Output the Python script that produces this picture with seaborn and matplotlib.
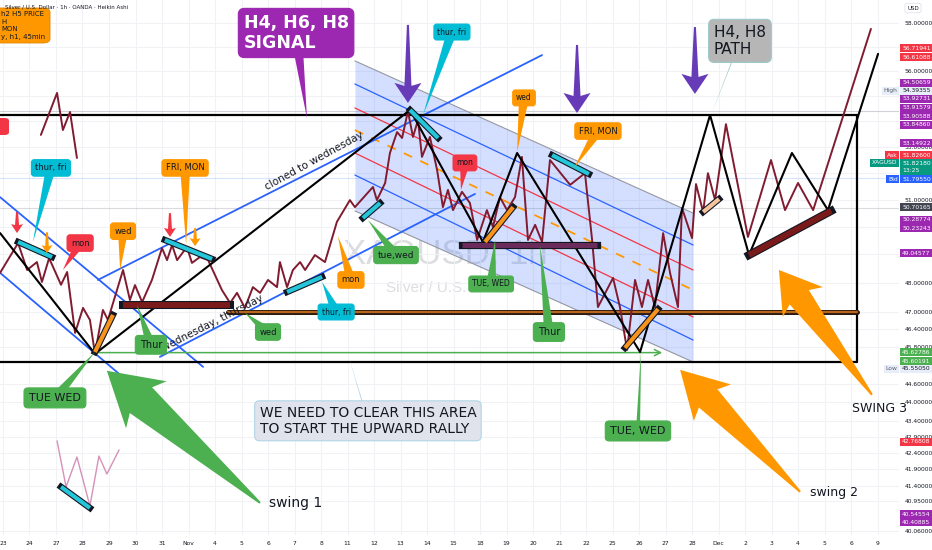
import numpy as np
import pandas as pd
import matplotlib.pyplot as plt
import matplotlib.transforms as mtransforms
from matplotlib.patches import Polygon, FancyBboxPatch
from matplotlib.ticker import FixedLocator, NullLocator, FuncFormatter
import seaborn as sns

# ----- Data (x = trading day index, y = price) -----
day_labels = ["23", "24", "27", "28", "29", "30", "31", "Nov", "4", "5", "6", "7", "8", "11",
              "12", "13", "14", "15", "18", "19", "20", "21", "22", "25", "26", "27", "28",
              "Dec", "2", "3", "4", "5", "6", "9"]
price_ticks = [58, 57, 56, 55, 54, 53, 52, 51, 50, 49, 48, 47, 46.4, 45.8, 44.6, 44, 43.4,
               42.9, 42.4, 41.9, 41.4, 40.95, 40.06]
# ticks whose labels sit under the coloured price tags
covered_ticks = [57, 55, 54, 52, 50, 49]

# maroon swing path drawn over the heikin ashi candles
path_x = [-0.11, 0.57, 0.91, 1.28, 1.47, 1.74, 2.19, 2.42, 2.72, 3.02,
          3.28, 3.47, 3.77, 3.96, 4.53, 4.79, 4.98, 5.25, 5.62, 6.00,
          6.19, 6.38, 6.57, 6.94, 7.13, 7.43, 7.74, 8.26, 8.57, 8.83,
          9.13, 9.43, 9.70, 10.00, 10.34, 10.45, 10.72, 10.94, 11.21, 11.40,
          11.77, 12.15, 12.60, 13.09, 13.28, 13.96, 14.11, 14.42, 14.60, 14.87,
          15.06, 15.28, 15.47, 15.66, 15.81, 16.11, 16.38, 16.60, 16.79, 16.98,
          17.32, 17.62, 17.89, 18.26, 18.49, 18.75, 19.02, 19.32, 19.58, 19.81,
          20.08, 20.34, 20.64, 21.40, 21.96, 22.23, 22.45, 23.02, 23.28, 23.55,
          23.85, 24.11, 24.34, 24.60, 24.91, 25.17, 25.47, 25.62, 26.00, 26.15,
          26.42, 26.60, 26.87, 27.28, 28.11, 28.98, 29.51, 30.00, 30.57, 32.75]
path_y = [48.35, 49.41, 48.45, 48.73, 48.03, 48.87, 47.93, 48.38, 46.28, 47.13,
          46.72, 45.58, 47.06, 46.72, 48.45, 47.40, 47.92, 47.33, 48.10, 49.23,
          48.80, 49.34, 48.80, 49.27, 48.70, 48.91, 48.80, 47.75, 47.30, 47.65,
          47.13, 47.85, 47.65, 48.10, 47.85, 48.73, 47.85, 48.45, 48.73, 48.45,
          48.98, 48.73, 50.18, 50.98, 50.72, 51.47, 50.98, 51.62, 52.76, 53.57,
          53.34, 54.39, 53.38, 54.04, 52.61, 53.38, 52.11, 50.72, 51.36, 50.61,
          51.29, 50.87, 49.52, 50.61, 49.99, 51.09, 50.61, 51.09, 52.61, 49.52,
          50.07, 49.45, 52.49, 51.55, 51.99, 49.52, 47.16, 48.17, 47.16, 45.71,
          48.10, 47.16, 48.10, 47.16, 49.77, 48.35, 47.16, 50.69, 49.59, 51.58,
          50.54, 51.99, 50.98, 53.88, 49.63, 52.49, 50.61, 51.62, 50.61, 57.75]

# black H4/H8 path
black_x = [-0.11, 3.47, 15.36, 18.11, 19.40, 24.04, 26.68, 28.15, 29.77, 31.13, 33.02]
black_y = [49.77, 45.58, 54.44, 49.45, 52.76, 45.64, 54.24, 48.98, 52.76, 50.61, 56.71]

# small side paths
topleft_x = [1.43, 2.04, 2.26, 2.53, 2.79]
topleft_y = [53.46, 55.12, 53.65, 54.36, 52.57]
pink_x = [2.04, 2.38, 2.79, 3.28, 3.62, 3.92, 4.38]
pink_y = [42.78, 41.37, 42.28, 40.80, 42.31, 41.76, 42.50]

# range box
box_top = 54.24
box_bottom = 45.31
box_right = 32.23
support_x = [8.49, 32.23]
support_y = 47.0
target_x = [3.47, 24.98]
target_y = 45.62

# regression channel (left / right end)
chan_x = [13.28, 26.04]
chan_top = [56.42, 50.50]
chan_blue_hi = [55.48, 49.34]
chan_red_hi = [54.52, 48.45]
chan_mid = [53.65, 47.75]
chan_red_lo = [52.76, 46.82]
chan_blue_lo = [51.92, 46.04]
chan_bottom = [50.58, 45.31]

# blue trend lines
desc_hi = ([-0.11, 7.55], [51.09, 45.15])
desc_lo = ([-0.11, 4.79], [48.35, 44.62])
asc_hi = ([3.58, 20.34], [48.10, 56.66])
asc_lo = ([5.92, 17.81], [45.48, 51.21])

# marker bars
cyan_bars = [([0.57, 1.85], [49.45, 48.91]), ([6.11, 7.89], [49.52, 48.84]),
             ([10.72, 12.04], [47.68, 48.21]), ([13.58, 14.23], [50.32, 50.87]),
             ([15.36, 16.42], [54.44, 53.34]), ([20.72, 22.11], [52.68, 51.96]),
             ([2.19, 3.28], [41.37, 40.74])]
orange_bars = [([3.47, 4.15], [45.64, 46.89]), ([18.19, 19.25], [49.45, 50.72]),
               ([23.47, 24.72], [45.78, 47.09])]
peach_bars = [([26.42, 27.02], [50.54, 51.02])]
maroon_bars = [([4.53, 8.57], [47.23, 47.23]), ([28.15, 31.25], [48.98, 50.58])]
plum_bars = [([17.32, 22.42], [49.34, 49.34])]

# price scale tags
tag_text = ["56.71941", "56.61088", "54.50659", "54.39355", "53.92731", "53.91579",
            "53.90588", "53.84860", "53.14922", "51.82600", "51.82180\n13:25", "51.79550",
            "50.70165", "50.28774", "50.23243", "49.04577", "45.62786", "45.60191",
            "45.55050", "42.76808", "40.54554", "40.40885"]
tag_kind = ["red", "red", "purple", "light", "purple", "purple", "purple", "purple",
            "purple", "red", "teal", "blue", "gray", "purple", "purple", "purple",
            "green", "green", "light", "red", "purple", "purple"]

C = {"red": "#f23645", "purple": "#9c27b0", "light": "#e8eef9", "teal": "#089981",
     "blue": "#2962ff", "gray": "#434651", "green": "#4caf50", "orange": "#ff9800",
     "cyan": "#00bcd4", "ink": "#131722", "maroon": "#801b30", "violet": "#673ab7"}

# ----- Figure -----
sns.set_theme(style="white")
plt.rcParams['font.family'] = ['DejaVu Sans']

fig = plt.figure(figsize=(9.32, 5.5), dpi=100)
ax = fig.add_axes([0, 15 / 550, 899 / 932, 535 / 550])
ax.set_yscale('log')

path_df = pd.DataFrame({"day": path_x, "price": path_y})
black_df = pd.DataFrame({"day": black_x, "price": black_y})
sns.lineplot(data=path_df, x="day", y="price", sort=False, estimator=None,
             color=C["maroon"], lw=1.4, ax=ax, zorder=4)
sns.lineplot(data=black_df, x="day", y="price", sort=False, estimator=None,
             color="black", lw=1.5, ax=ax, zorder=4.5)
ax.plot(topleft_x, topleft_y, color=C["maroon"], lw=1.4, zorder=4)
ax.plot(pink_x, pink_y, color="#d691b8", lw=1.0, zorder=4)

ax.set_xlim(-0.113, 33.81)
ax.set_ylim(39.945, 58.98)
ax.set_autoscale_on(False)
ax.set_xlabel("")
ax.set_ylabel("")
for s in ax.spines.values():
    s.set_visible(False)

ax.set_xticks(range(len(day_labels)))
ax.set_xticklabels(day_labels)
ax.yaxis.tick_right()
ax.yaxis.set_major_locator(FixedLocator(price_ticks))
ax.yaxis.set_minor_locator(NullLocator())
ax.yaxis.set_major_formatter(
    FuncFormatter(lambda v, _: "" if round(v, 2) in covered_ticks else f"{v:.5f}"))
ax.tick_params(axis='both', length=0, labelsize=4.3, labelcolor=C["ink"])
ax.tick_params(axis='y', pad=4)
ax.tick_params(axis='x', pad=4)
ax.grid(True, color='#f0f2f5', lw=0.8)
ax.set_axisbelow(True)

# faint price lines
ax.axhline(54.39, color='#b2b5be', lw=0.8, alpha=0.6, zorder=0.8)
ax.axhline(51.80, color=C["blue"], lw=0.8, alpha=0.18, zorder=0.8)
ax.axhline(50.70, color='#9598a1', lw=0.8, alpha=0.35, zorder=0.8)

# watermark
ax.text(16.7, 49.0, "XAGUSD, 1h", fontsize=25, color='#dcdde1', ha='center', va='center',
        family='Liberation Sans', zorder=0.5)
ax.text(16.8, 47.82, "Silver / U.S. Dollar", fontsize=11, color='#dcdde1', ha='center',
        va='center', family='Liberation Sans', zorder=0.5)

# regression channel
ax.fill_between(chan_x, chan_bottom, chan_top, color=C["blue"], alpha=0.2, lw=0, zorder=1)
ax.plot(chan_x, chan_top, color='#9598a1', lw=0.8, zorder=2)
ax.plot(chan_x, chan_bottom, color='#9598a1', lw=0.8, zorder=2)
for ln in (chan_blue_hi, chan_blue_lo):
    ax.plot(chan_x, ln, color=C["blue"], lw=0.9, zorder=2)
for ln in (chan_red_hi, chan_red_lo):
    ax.plot(chan_x, ln, color=C["red"], lw=0.9, zorder=2)
ax.plot(chan_x, chan_mid, color=C["orange"], lw=1.3, ls=(0, (5, 5)), zorder=2)

# blue trend lines
for xs, ys in (desc_hi, desc_lo, asc_hi, asc_lo):
    ax.plot(xs, ys, color=C["blue"], lw=1.3, zorder=2.5)

# range box
ax.plot([-0.2, box_right], [box_top, box_top], color='black', lw=1.6, zorder=3)
ax.plot([-0.2, box_right], [box_bottom, box_bottom], color='black', lw=1.6, zorder=3)
ax.plot([box_right, box_right], [box_bottom, box_top], color='black', lw=1.6, zorder=3)
ax.plot(support_x, [support_y] * 2, color='#2a1a10', lw=3.6, zorder=3)
ax.plot(support_x, [support_y] * 2, color='#b8661e', lw=1.6, zorder=3.1)
ax.annotate("", xy=(target_x[1], target_y), xytext=(target_x[0], target_y),
            arrowprops=dict(arrowstyle='->', color=C["green"], lw=1.1, mutation_scale=11),
            zorder=3)


def bar(xs, ys, color, w=3.0, z=5):
    ax.plot(xs, ys, color='#131722', lw=w + 1.6, solid_capstyle='projecting', zorder=z)
    ax.plot(xs, ys, color=color, lw=w, solid_capstyle='butt', zorder=z + 0.01)


for xs, ys in cyan_bars:
    bar(xs, ys, '#26c6da')
for xs, ys in orange_bars:
    bar(xs, ys, '#f7941d')
for xs, ys in peach_bars:
    bar(xs, ys, '#f5c49c')
for xs, ys in maroon_bars:
    bar(xs, ys, '#7b1a1a', w=4.2)
for xs, ys in plum_bars:
    bar(xs, ys, '#6a2a5a', w=3.6)


def arrow(tail, tip, color, head_len, head_w, notch_len, notch_w, tail_w=1.0, z=6):
    T = ax.transData.transform(tail)
    P = ax.transData.transform(tip)
    u = (P - T) / np.hypot(*(P - T))
    n = np.array([-u[1], u[0]])
    pts = [T + n * tail_w, P - u * notch_len + n * notch_w, P - u * head_len + n * head_w, P,
           P - u * head_len - n * head_w, P - u * notch_len - n * notch_w, T - n * tail_w]
    pts = ax.transData.inverted().transform(np.array(pts))
    ax.add_patch(Polygon(pts, closed=True, fc=color, ec='none', zorder=z))


arrow((9.70, 40.89), (3.92, 45.02), C["green"], 52, 31, 45, 17)
arrow((30.08, 41.22), (25.55, 45.05), C["orange"], 46, 26, 40, 13)
arrow((32.79, 44.24), (29.28, 48.45), C["orange"], 40, 25, 34, 12)
arrow((15.28, 57.92), (15.28, 54.72), C["violet"], 20, 13.5, 17, 3.5)
arrow((21.66, 57.08), (21.66, 54.32), C["violet"], 20, 13.5, 17, 3.5)
arrow((26.11, 57.83), (26.11, 55.08), C["violet"], 20, 13.5, 17, 3.5)
arrow((0.53, 50.54), (0.53, 49.77), C["red"], 9, 6, 8, 2)
arrow((6.30, 50.50), (6.30, 49.63), C["red"], 9, 6, 8, 2)
arrow((1.66, 49.80), (1.66, 49.05), C["orange"], 8, 5.5, 7, 1.8)
arrow((7.25, 49.95), (7.25, 49.30), C["orange"], 8, 5.5, 7, 1.8)


def callout(text, box, tip, fc, size=6, tc=C["ink"], base=5, weight='normal',
            pad=0.45, ec=None, z=7, ha='center'):
    B = ax.transData.transform(box)
    P = ax.transData.transform(tip)
    u = (P - B) / np.hypot(*(P - B))
    n = np.array([-u[1], u[0]])
    pts = ax.transData.inverted().transform(np.array([B + n * base, P, B - n * base]))
    ax.add_patch(Polygon(pts, closed=True, fc=ec or fc, ec='none', zorder=z))
    ax.text(box[0], box[1], text, ha=ha, va='center', fontsize=size, color=tc,
            fontweight=weight, multialignment='left', zorder=z + 0.1,
            bbox=dict(boxstyle=f'round,pad={pad},rounding_size=0.35', fc=fc,
                      ec=ec or fc, lw=0.8))


callout("thur, fri", (1.81, 52.19), (1.13, 49.45), C["cyan"])
callout("mon", (2.91, 49.41), (2.26, 48.45), C["red"])
callout("wed", (4.53, 49.84), (4.42, 48.45), C["orange"])
callout("FRI, MON", (6.87, 52.19), (6.91, 49.34), C["orange"])
callout("Thur", (5.58, 45.88), (5.06, 47.23), C["green"], size=7)
callout("wed", (10.0, 46.31), (9.13, 46.96), C["green"])
callout("mon", (13.13, 48.10), (12.64, 49.66), C["orange"])
callout("thur, fri", (12.57, 46.99), (12.04, 48.03), C["cyan"], size=5.5, z=3.5)
callout("tue,wed", (14.83, 48.98), (13.77, 50.25), C["green"], size=6.5)
callout("mon", (17.43, 52.38), (17.28, 51.36), C["red"], size=5.5, z=3.8)
callout("TUE, WED", (18.42, 47.96), (18.57, 49.52), C["green"], size=5.5)
callout("wed", (19.66, 54.92), (19.40, 52.80), C["orange"], size=5.5)
callout("Thur", (20.60, 46.31), (20.26, 49.34), C["green"], size=7)
callout("FRI, MON", (22.45, 53.61), (21.55, 52.19), C["orange"])
callout("thur, fri", (16.94, 57.62), (15.85, 54.24), C["cyan"], size=5.5)
callout("TUE WED", (1.96, 44.14), (3.47, 45.64), C["green"], size=8)
callout("TUE, WED", (23.96, 43.09), (24.08, 45.71), C["green"], size=8, base=2)
callout("H4, H6, H8\nSIGNAL", (11.06, 57.58), (11.47, 54.12), C["purple"], size=12.5,
        tc='white', weight='bold', pad=0.3, base=6)
callout("H4, H8\nPATH", (27.81, 57.25), (26.72, 54.24), '#b6b6b6', size=11,
        pad=0.35, base=0.6, ec='#9cc9c9')
callout("WE NEED TO CLEAR THIS AREA\nTO START THE UPWARD RALLY", (13.77, 43.41),
        (13.06, 45.44), '#e0e3eb', size=10, pad=0.35, base=0.7, ec='#b2d4e8')

# rotated notes along the lines
ax.text(11.75, 52.45, "cloned to wednesday", rotation=28.8, rotation_mode='anchor',
        ha='center', va='center', fontsize=7.5, color=C["ink"], zorder=4)
ax.text(7.9, 46.6, "wednesday, thursday", rotation=27, rotation_mode='anchor',
        ha='center', va='center', fontsize=7.5, color=C["ink"], zorder=4)
ax.text(10.04, 40.89, "swing 1", ha='left', va='center', fontsize=10, color=C["ink"], zorder=8)
ax.text(30.45, 41.19, "swing 2", ha='left', va='center', fontsize=9, color=C["ink"], zorder=8)
ax.text(32.04, 43.81, "SWING 3", ha='left', va='center', fontsize=9, color=C["ink"], zorder=8)

# top-left pieces
ax.add_patch(FancyBboxPatch((-0.02, 1 - 43 / 535), 68 / 899, 35 / 535,
                            boxstyle='round,pad=0,rounding_size=0.008', fc=C["orange"],
                            ec='#e08600', lw=0.6, transform=ax.transAxes, zorder=9))
for i, line in enumerate(["h2 H5 PRICE", "H", "MON", "y, h1, 45min"]):
    ax.text(1 / 899, 1 - (14 + 7.6 * i) / 535, line, transform=ax.transAxes, fontsize=5,
            color=C["ink"], va='center', ha='left', zorder=9.5)
ax.add_patch(FancyBboxPatch((-0.02, 1 - 135 / 535), 0.03, 17 / 535,
                            boxstyle='round,pad=0,rounding_size=0.005', fc=C["red"],
                            ec='none', transform=ax.transAxes, zorder=9))
fig.text(5 / 932, 1 - 7 / 550, "Silver / U.S. Dollar \u00b7 1h \u00b7 OANDA \u00b7 Heikin Ashi",
         fontsize=4, color=C["ink"], va='center', ha='left', zorder=10)
fig.text(913 / 932, 1 - 8 / 550, "USD", fontsize=4, color=C["ink"], va='center', ha='center',
         bbox=dict(boxstyle='round,pad=0.4', fc='white', ec='#e0e3eb', lw=0.6))

# price scale tags
tag_pos = [56.95, 56.58, 55.52, 55.20, 54.88, 54.52, 54.20, 53.85, 53.14, 52.68, 52.23,
           51.77, 50.72, 50.25, 49.95, 49.05, 45.64, 45.34, 45.08, 42.75, 40.56, 40.32]
tag_tf = mtransforms.blended_transform_factory(ax.transAxes, ax.transData)
for text, kind, y in zip(tag_text, tag_kind, tag_pos):
    tc = C["ink"] if kind == "light" else 'white'
    ax.text(1.0035, y, text, transform=tag_tf, ha='left', va='center', fontsize=4.3,
            color=tc, linespacing=1.5, clip_on=False, zorder=10,
            bbox=dict(boxstyle='square,pad=0.3', fc=C[kind], ec='none'))
side_tags = [("High", 55.20, "light"), ("Ask", 52.68, "red"), ("XAGUSD", 52.38, "teal"),
             ("Bid", 51.77, "blue"), ("Low", 45.08, "light")]
for text, y, kind in side_tags:
    tc = '#5d606b' if kind == "light" else 'white'
    ax.text(0.9985, y, text, transform=tag_tf, ha='right', va='center', fontsize=4.3,
            color=tc, clip_on=False, zorder=10,
            bbox=dict(boxstyle='square,pad=0.3', fc=C[kind], ec='none'))

fig.savefig("out.png", dpi=100)
